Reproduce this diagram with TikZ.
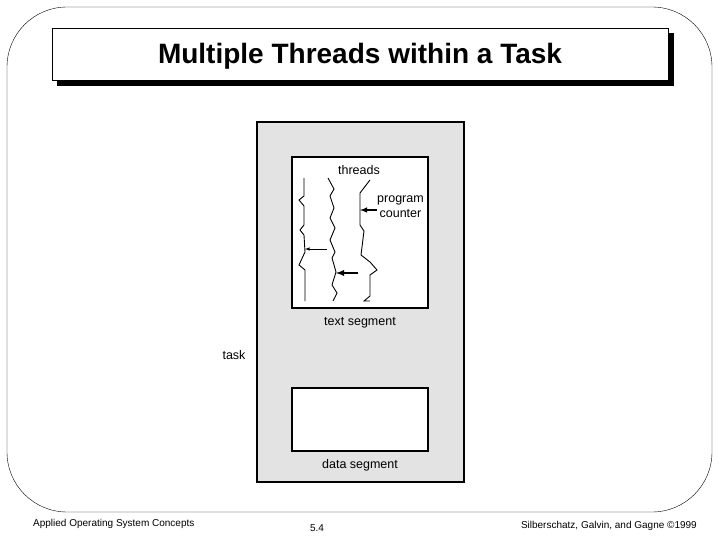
\documentclass[tikz,border=0pt]{standalone}
\usepackage{fontspec}
\setmainfont{Liberation Sans}
\usetikzlibrary{arrows}

\begin{document}
\begin{tikzpicture}[x=1pt,y=-1pt,
	seg_box/.style={draw,line width=1.5pt,fill=white,inner sep=0pt},
	small_lbl/.style={font=\fontsize{12.5}{15}\selectfont,inner sep=1pt},
	foot_lbl/.style={font=\fontsize{10}{12}\selectfont,inner sep=0pt},
	thread_line/.style={line width=0.9pt}]

		\useasboundingbox (0,0) rectangle (720,540);
		\draw[rounded corners=60pt] (7,7) rectangle (712,512);

		% title
		\node[draw,fill=black,minimum width=616pt,minimum height=52pt] (title_shadow) at (365,59) {};
		\node[draw,fill=white,minimum width=616pt,minimum height=52pt,text height=26pt,text depth=6pt,font=\bfseries\fontsize{28}{32}\selectfont] (title) at (360,54) {Multiple Threads within a Task};

		% task and its segments
		\node[draw,line width=1.5pt,fill=black!11,minimum width=207pt,minimum height=360pt] (task_box) at (360.5,302) {};
		\node[seg_box,minimum width=136pt,minimum height=151pt] (text_box) at (360,232.5) {};
		\node[seg_box,minimum width=136pt,minimum height=63pt] (data_box) at (360,419.5) {};

		\node[small_lbl] (threads) at (359,170) {threads};
		\node[small_lbl,align=center,anchor=west] (pc) at (376,207) {program\\counter};
		\node[small_lbl] (text_lbl) at (360,323) {text segment};
		\node[small_lbl] (data_lbl) at (360,465) {data segment};
		\node[small_lbl] (task) at (234,355) {task};

		% threads
		\draw[thread_line] (304,178) -- (304,196) -- (299,200) -- (304,206) -- (304,225) -- (300,230) -- (304,235) -- (305,252) -- (299,265) -- (305,270) -- (305,301);
		\draw[thread_line] (328,178) -- (334,189) -- (330,196) -- (334,208) -- (330,218) -- (335,228) -- (330,240) -- (335,252) -- (332,258) -- (336,272) -- (332,285) -- (337,293) -- (333,301);
		\draw[thread_line] (370,180) -- (360,193) -- (360,225) -- (364,231) -- (361,255) -- (370,262) -- (377,270) -- (370,275) -- (370,296) -- (364,301) -- (370,301);

		% program counters
		\coordinate (pc1_tail) at (377,210);
		\coordinate (pc1_head) at (360,210);
		\coordinate (pc2_tail) at (327,249);
		\coordinate (pc2_head) at (305,249);
		\coordinate (pc3_tail) at (358,273);
		\coordinate (pc3_head) at (336,273);
		\draw[-latex,line width=1.4pt] (pc1_tail) -- (pc1_head);
		\draw[-latex,line width=0.6pt] (pc2_tail) -- (pc2_head);
		\draw[-latex,line width=1.8pt] (pc3_tail) -- (pc3_head);

		% footer
		\node[foot_lbl,anchor=west] (course) at (33,524) {Applied Operating System Concepts};
		\node[foot_lbl] (page) at (317,528) {5.4};
		\node[foot_lbl,anchor=east] (authors) at (697,526) {Silberschatz, Galvin, and Gagne \textcopyright1999};
		\end{tikzpicture}
\end{document}
